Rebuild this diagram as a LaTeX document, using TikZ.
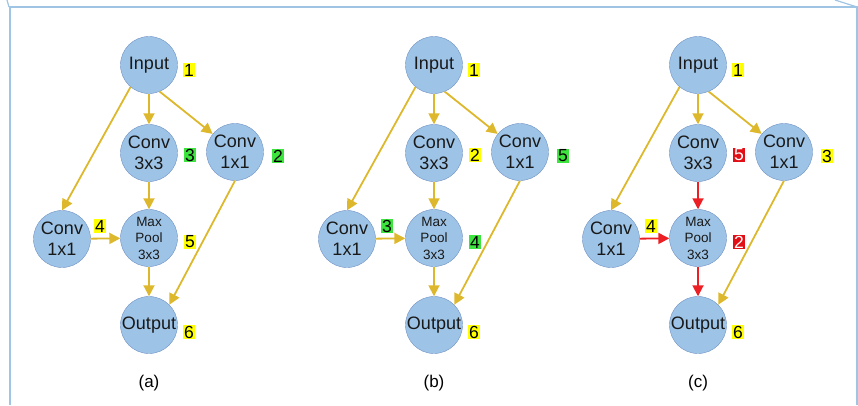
\documentclass[tikz,border=0pt]{standalone}
\usepackage{fontspec}
\setmainfont{Liberation Sans}
\usetikzlibrary{arrows.meta}
\definecolor{cellblue}{RGB}{157,195,230}
\definecolor{celledge}{RGB}{112,146,196}
\definecolor{flowyellow}{RGB}{222,184,44}
\definecolor{flowred}{RGB}{236,32,36}
\definecolor{tagyellow}{RGB}{255,255,0}
\definecolor{taggreen}{RGB}{62,228,62}
\definecolor{tagred}{RGB}{226,16,22}
\definecolor{framecol}{RGB}{160,196,228}
\tikzset{
  layer/.style={circle,draw=celledge,fill=cellblue,minimum size=57pt,inner sep=0pt,
    align=center,text=black!90,font=\fontsize{18}{21}\selectfont},
  pool/.style={layer,font=\fontsize{13.5}{16.5}\selectfont},
  tagy/.style={fill=tagyellow,inner sep=1.1pt,text=black,font=\fontsize{17.5}{17.5}\selectfont},
  tagg/.style={tagy,fill=taggreen},
  tagr/.style={tagy,fill=tagred,text=white},
  flow/.style={draw=flowyellow,line width=1.8pt,-{Triangle[length=11pt,width=11pt]}},
  hot/.style={flow,draw=flowred},
  caption/.style={font=\fontsize{17}{20}\selectfont}
}
\begin{document}
\begin{tikzpicture}[x=1pt,y=1pt]
\useasboundingbox (0,0) rectangle (858,405);
% frame
\draw[framecol,line width=1.8pt] (10,0) -- (10,398) -- (857,398) -- (857,0);
\draw[framecol,line width=1.2pt] (7,405) -- (9,398);
\draw[framecol,line width=1.2pt] (835,405) -- (857,398);
% (a)
\begin{scope}
\node[layer] (ain) at (149,340) {Input};
\node[layer] (aconvm) at (149,252) {Conv\\3x3};
\node[layer] (aconvr) at (235,253) {Conv\\1x1};
\node[layer] (aconvl) at (62,166) {Conv\\1x1};
\node[pool] (apool) at (149,167) {Max\\Pool\\3x3};
\node[layer] (aout) at (149,80) {Output};
\draw[flow] (ain) -- (aconvm);
\draw[flow] (ain.-68) -- (aconvr.141);
\draw[flow] (ain.230) -- (aconvl.north);
\draw[flow] (aconvm) -- (apool);
\draw[flow] (aconvl) -- (apool);
\draw[flow] (apool) -- (aout);
\draw[flow] (aconvr.south) -- (aout.45);
\node[tagy] (atag1) at (189,335) {1};
\node[tagg] (atag3) at (190,250) {3};
\node[tagg] (atag2) at (278,249) {2};
\node[tagy] (atag4) at (100,179) {4};
\node[tagy] (atag5) at (190,163) {5};
\node[tagy] (atag6) at (189,73) {6};
\node[caption] (acap) at (149,22) {(a)};
\end{scope}
% (b)
\begin{scope}[xshift=285pt]
\node[layer] (bin) at (149,340) {Input};
\node[layer] (bconvm) at (149,252) {Conv\\3x3};
\node[layer] (bconvr) at (235,253) {Conv\\1x1};
\node[layer] (bconvl) at (62,166) {Conv\\1x1};
\node[pool] (bpool) at (149,167) {Max\\Pool\\3x3};
\node[layer] (bout) at (149,80) {Output};
\draw[flow] (bin) -- (bconvm);
\draw[flow] (bin.-68) -- (bconvr.141);
\draw[flow] (bin.230) -- (bconvl.north);
\draw[flow] (bconvm) -- (bpool);
\draw[flow] (bconvl) -- (bpool);
\draw[flow] (bpool) -- (bout);
\draw[flow] (bconvr.south) -- (bout.45);
\node[tagy] (btag1) at (189,335) {1};
\node[tagy] (btag2) at (190,250) {2};
\node[tagg] (btag5) at (278,249) {5};
\node[tagg] (btag3) at (102,179) {3};
\node[tagg] (btag4) at (190,163) {4};
\node[tagy] (btag6) at (189,73) {6};
\node[caption] (bcap) at (149,22) {(b)};
\end{scope}
% (c)
\begin{scope}[xshift=549pt]
\node[layer] (cin) at (149,340) {Input};
\node[layer] (cconvm) at (149,252) {Conv\\3x3};
\node[layer] (cconvr) at (235,253) {Conv\\1x1};
\node[layer] (cconvl) at (62,166) {Conv\\1x1};
\node[pool] (cpool) at (149,167) {Max\\Pool\\3x3};
\node[layer] (cout) at (149,80) {Output};
\draw[flow] (cin) -- (cconvm);
\draw[flow] (cin.-68) -- (cconvr.141);
\draw[flow] (cin.230) -- (cconvl.north);
\draw[hot] (cconvm) -- (cpool);
\draw[hot] (cconvl) -- (cpool);
\draw[hot] (cpool) -- (cout);
\draw[flow] (cconvr.south) -- (cout.45);
\node[tagy] (ctag1) at (189,335) {1};
\node[tagr] (ctag5) at (190,250) {5};
\node[tagy] (ctag3) at (278,249) {3};
\node[tagy] (ctag4) at (102,179) {4};
\node[tagr] (ctag2) at (190,163) {2};
\node[tagy] (ctag6) at (189,73) {6};
\node[caption] (ccap) at (149,22) {(c)};
\end{scope}
\end{tikzpicture}
\end{document}
